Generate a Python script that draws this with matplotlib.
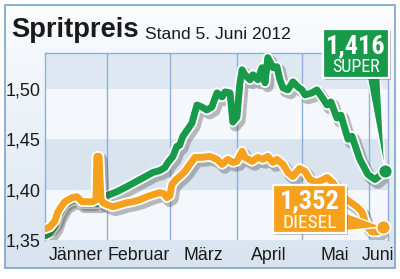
import matplotlib
matplotlib.use("Agg")
import matplotlib.pyplot as plt
import matplotlib.patheffects as pe
from matplotlib.patches import Rectangle, Polygon
from matplotlib.colors import LinearSegmentedColormap
import numpy as np

# ---------------- data (day of year 2012, 0 = 1 Jan) ----------------
months = ["Jänner", "Februar", "März", "April", "Mai", "Juni"]
month_starts = [0, 31, 60, 91, 121, 152]
yticks = [1.35, 1.40, 1.45, 1.50]
ytick_labels = ["1,35", "1,40", "1,45", "1,50"]

diesel_days = [2.3, 4.6, 6.9, 8.3, 10.1, 11.5, 14.8, 17.1, 19.4, 22.2, 24.5, 25.9, 26.3, 27.3,
               28.2, 29.1, 31.0, 33.7, 37.0, 40.2, 43.0, 46.2, 49.5, 52.2, 55.5, 57.3, 58.7,
               60.1, 61.0, 62.9, 64.6, 67.0, 69.3, 71.7, 74.9, 78.6, 81.9, 84.2, 86.9, 89.2,
               91.1, 93.5, 94.8, 98.1, 100.8, 103.1, 105.4, 107.8, 109.6, 112.4, 114.7, 117.0,
               118.9, 120.2, 122.6, 124.9, 128.1, 132.8, 135.5, 138.8, 142.0, 146.6, 148.9,
               151.3, 153.6, 156.4, 158.7]
diesel = [1.361, 1.363, 1.369, 1.378, 1.384, 1.388, 1.392, 1.393, 1.388, 1.388, 1.388, 1.390,
          1.433, 1.433, 1.390, 1.387, 1.385, 1.383, 1.385, 1.387, 1.388, 1.390, 1.393, 1.395,
          1.397, 1.396, 1.392, 1.394, 1.405, 1.410, 1.413, 1.418, 1.425, 1.432, 1.432, 1.433,
          1.430, 1.425, 1.430, 1.427, 1.428, 1.438, 1.432, 1.428, 1.432, 1.430, 1.433, 1.427,
          1.430, 1.425, 1.417, 1.413, 1.418, 1.421, 1.418, 1.410, 1.407, 1.412, 1.407, 1.397,
          1.390, 1.383, 1.378, 1.363, 1.358, 1.358, 1.363]

super_days = [2.3, 4.6, 6.9, 8.3, 10.1, 11.5, 14.8, 17.1, 19.4, 22.2, 24.5, 27.3, 29.1, 31.0,
              35.6, 40.2, 46.2, 52.2, 55.5, 57.8, 59.2, 61.5, 63.3, 64.6, 66.1, 68.4, 70.3,
              72.6, 74.9, 77.2, 79.5, 81.9, 84.2, 85.6, 87.9, 89.2, 91.1, 92.5, 93.5, 94.8,
              97.1, 98.5, 100.8, 102.7, 104.1, 105.4, 107.8, 109.6, 111.0, 112.4, 114.7, 117.0,
              119.3, 121.2, 122.6, 125.8, 128.1, 130.4, 132.8, 134.6, 137.4, 139.2, 142.5,
              144.3, 148.0, 151.7, 155.0, 159.6]
super_ = [1.354, 1.357, 1.364, 1.373, 1.380, 1.385, 1.389, 1.390, 1.386, 1.386, 1.386, 1.386,
          1.390, 1.394, 1.398, 1.403, 1.410, 1.417, 1.419, 1.422, 1.427, 1.433, 1.443, 1.444,
          1.453, 1.460, 1.466, 1.484, 1.482, 1.479, 1.482, 1.496, 1.492, 1.497, 1.496, 1.467,
          1.472, 1.506, 1.519, 1.514, 1.509, 1.514, 1.509, 1.521, 1.506, 1.531, 1.521, 1.522,
          1.509, 1.501, 1.499, 1.507, 1.502, 1.499, 1.494, 1.496, 1.499, 1.492, 1.484, 1.487,
          1.471, 1.474, 1.450, 1.453, 1.430, 1.415, 1.410, 1.418]

super_label = ["1,416", "SUPER"]
diesel_label = ["1,352", "DIESEL"]
title = "Spritpreis"
subtitle = "Stand 5. Juni 2012"

# ---------------- style ----------------
FONT = ["Liberation Sans", "DejaVu Sans"]
COND = ["Roboto Condensed", "Liberation Sans", "DejaVu Sans"]
plt.rcParams["font.family"] = FONT
GREEN = "#199a4a"
ORANGE = "#f6a11e"
GRID = "#8eb0d6"
TEXT = "#1a1a1a"
W, H = 400, 279

fig = plt.figure(figsize=(4, 2.79), dpi=100)

# background frame (pixel coordinates)
bg = fig.add_axes([0, 0, 1, 1], zorder=0)
bg.set_xlim(0, W); bg.set_ylim(H, 0); bg.axis("off")
grad = np.linspace(0, 1, 256).reshape(-1, 1)
cmap = LinearSegmentedColormap.from_list("bgc", ["#fbfdff", "#e9f0f7", "#d8e3ef"])
bg.imshow(grad, cmap=cmap, extent=(5, 395, 268, 5), aspect="auto", zorder=0)
bg.add_patch(Rectangle((5, 5), 390, 263, fill=False, ec="#7ba2cb", lw=1.2, zorder=1))

# main chart
ax = fig.add_axes([45 / W, (H - 240) / H, (388 - 45) / W, (240 - 53) / H], zorder=1)
ax.set_facecolor("none")
ax.set_xlim(2.3, 161)
ax.set_ylim(1.351, 1.5356)
bands = [(1.35, 1.40, "#f4f7fb"), (1.40, 1.45, "#dae4ef"), (1.45, 1.50, "#f4f7fb"), (1.50, 1.54, "#dfe8f2")]
for lo, hi, c in bands:
    ax.axhspan(lo, hi, color=c, zorder=0, lw=0)
for m in month_starts[1:]:
    ax.axvline(m, color=GRID, lw=1.0, zorder=1)
ax.spines["bottom"].set_visible(False)
for s in ["left", "top", "right"]:
    ax.spines[s].set_color(GRID)
    ax.spines[s].set_linewidth(1.0)

ax.set_yticks(yticks)
ax.set_yticklabels(ytick_labels, fontsize=13, color=TEXT)
edges = [ax.get_xlim()[0]] + month_starts[1:] + [ax.get_xlim()[1]]
centers = [(a + b) / 2 for a, b in zip(edges[:-1], edges[1:])]
ax.set_xticks(centers)
ax.set_xticklabels(months, fontsize=12.8, color=TEXT)
ax.tick_params(length=0)
ax.tick_params(axis="x", pad=5)
ax.tick_params(axis="y", pad=3)

effects = [pe.SimpleLineShadow(offset=(2, -2.5), shadow_color="#444444", alpha=0.35, linewidth=8.5),
           pe.Stroke(linewidth=7.6, foreground="white"), pe.Normal()]
ax.plot(super_days, super_, color=GREEN, lw=5.0, solid_joinstyle="round", solid_capstyle="round",
        path_effects=effects, zorder=3)
ax.plot(diesel_days, diesel, color=ORANGE, lw=5.0, solid_joinstyle="round", solid_capstyle="round",
        path_effects=effects, zorder=4)

def px2data(px, py):
    return ax.transData.inverted().transform((px, H - py))

# pointers
g_tip = (super_days[-1], super_[-1])
d_tip = (diesel_days[-1], diesel[-1])
gp = Polygon([px2data(367, 76), px2data(380, 76), g_tip], closed=True, fc=GREEN, ec="white",
             lw=1.0, zorder=6, clip_on=False)
ax.add_patch(gp)
dp = Polygon([px2data(343, 212), px2data(343, 231), d_tip], closed=True, fc=ORANGE, ec="white",
             lw=1.0, zorder=6, clip_on=False)
ax.add_patch(dp)
for tip, c in [(g_tip, GREEN), (d_tip, ORANGE)]:
    ax.plot([tip[0]], [tip[1]], "o", ms=10, color=c, mec="white", mew=1.2, zorder=7,
            clip_on=False)

# overlay for boxes and titles
ov = fig.add_axes([0, 0, 1, 1], zorder=3)
ov.set_xlim(0, W); ov.set_ylim(H, 0); ov.axis("off"); ov.patch.set_alpha(0)

def box(x0, y0, w, h, color):
    ov.add_patch(Rectangle((x0 + 2, y0 + 2), w, h, fc="#000000", alpha=0.25, lw=0))
    ov.add_patch(Rectangle((x0, y0), w, h, fc=color, ec="white", lw=1.6))

box(323, 29, 66, 49, GREEN)
ov.text(356, 53.5, super_label[0], fontsize=19, fontweight="bold", color="white",
        ha="center", va="baseline", family=COND)
ov.text(356, 72.5, super_label[1], fontsize=13, color="white", ha="center", va="baseline",
        family=COND)

box(273, 185, 73, 48, ORANGE)
ov.text(309.5, 208.5, diesel_label[0], fontsize=19, fontweight="bold", color="white",
        ha="center", va="baseline", family=COND)
ov.text(309.5, 228, diesel_label[1], fontsize=14, color="white", ha="center", va="baseline",
        family=COND)

ov.text(11, 37, title, fontsize=19.7, fontweight="bold", color=TEXT, ha="left", va="baseline")
ov.text(145, 39, subtitle, fontsize=12.6, color=TEXT, ha="left", va="baseline")

fig.savefig("out.png", dpi=100)
